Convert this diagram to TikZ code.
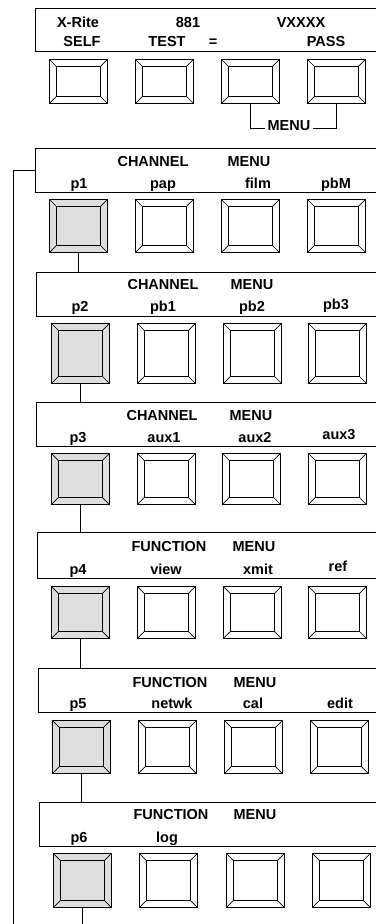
\documentclass[tikz,border=0pt]{standalone}
\usepackage{fontspec}
\setmainfont{Liberation Sans}
\definecolor{keygrey}{RGB}{222,222,222}
\tikzset{
  panel/.style={draw, line width=1.1pt, anchor=north west, inner sep=0pt,
    minimum width=380pt, minimum height=#1},
  btn/.style={draw, line width=0.9pt, anchor=north west, inner sep=0pt,
    minimum width=58pt, minimum height=#1,
    path picture={
      \draw[line width=0.8pt] ([shift={(7pt,7pt)}]path picture bounding box.south west)
        rectangle ([shift={(-7pt,-7pt)}]path picture bounding box.north east);
      \draw[line width=0.7pt] (path picture bounding box.south west) -- ++(7pt,7pt);
      \draw[line width=0.7pt] (path picture bounding box.north west) -- ++(7pt,-7pt);
      \draw[line width=0.7pt] (path picture bounding box.north east) -- ++(-7pt,-7pt);
      \draw[line width=0.7pt] (path picture bounding box.south east) -- ++(-7pt,7pt);
    }},
  selkey/.style={fill=keygrey},
  lbl/.style={font=\bfseries\fontsize{14.5}{16}\selectfont, anchor=base, inner sep=0pt},
  wire/.style={line width=0.9pt}
}
\begin{document}
\begin{tikzpicture}[x=1pt,y=-1pt]
\useasboundingbox (0,0) rectangle (375,924);

% ---------- top panel ----------
\node[panel=43pt] (P1) at (35,8) {};
\node[lbl] (t1a) at (78,27) {X-Rite};
\node[lbl] (t1b) at (188,27) {881};
\node[lbl] (t1c) at (301,27) {VXXXX};
\node[lbl] (t1d) at (82,46) {SELF};
\node[lbl] (t1e) at (167,46) {TEST};
\node[lbl] (t1f) at (213,46) {=};
\node[lbl] (t1g) at (326,46) {PASS};
\node[btn=44pt] (b11) at (49,59) {};
\node[btn=44pt] (b12) at (135,59) {};
\node[btn=44pt] (b13) at (221,59) {};
\node[btn=44pt] (b14) at (307,59) {};
\node[lbl, inner xsep=2pt] (menu) at (289,130) {MENU};
\draw[wire] (b13.south) |- ([yshift=2pt]menu.base west);
\draw[wire] ([yshift=2pt]menu.base east) -| (b14.south);

% ---------- panel 2 ----------
\node[panel=44pt] (P2) at (35,148) {};
\node[lbl] (t2a) at (153,166) {CHANNEL};
\node[lbl] (t2b) at (249,166) {MENU};
\node[lbl] (t2c) at (79,188) {p1};
\node[lbl] (t2d) at (163,188) {pap};
\node[lbl] (t2e) at (258,188) {film};
\node[lbl] (t2f) at (336,188) {pbM};
\node[btn=53pt, selkey] (b21) at (49,199) {};
\node[btn=53pt] (b22) at (135,199) {};
\node[btn=53pt] (b23) at (221,199) {};
\node[btn=53pt] (b24) at (307,199) {};

% ---------- panel 3 ----------
\node[panel=44pt] (P3) at (36,272) {};
\node[lbl] (t3a) at (163,289) {CHANNEL};
\node[lbl] (t3b) at (252,289) {MENU};
\node[lbl] (t3c) at (80,311) {p2};
\node[lbl] (t3d) at (163,311) {pb1};
\node[lbl] (t3e) at (252,311) {pb2};
\node[lbl] (t3f) at (336,309) {pb3};
\node[btn=60pt, selkey] (b31) at (51,323) {};
\node[btn=60pt] (b32) at (137,323) {};
\node[btn=60pt] (b33) at (223,323) {};
\node[btn=60pt] (b34) at (308,323) {};

% ---------- panel 4 ----------
\node[panel=44pt] (P4) at (36,402) {};
\node[lbl] (t4a) at (162,420) {CHANNEL};
\node[lbl] (t4b) at (251,420) {MENU};
\node[lbl] (t4c) at (78,442) {p3};
\node[lbl] (t4d) at (164,442) {aux1};
\node[lbl] (t4e) at (255,442) {aux2};
\node[lbl] (t4f) at (339,439) {aux3};
\node[btn=51pt, selkey] (b41) at (51,453) {};
\node[btn=51pt] (b42) at (137,453) {};
\node[btn=51pt] (b43) at (222,453) {};
\node[btn=51pt] (b44) at (308,453) {};

% ---------- panel 5 ----------
\node[panel=46pt] (P5) at (37,532) {};
\node[lbl] (t5a) at (169,551) {FUNCTION};
\node[lbl] (t5b) at (254,551) {MENU};
\node[lbl] (t5c) at (78,574) {p4};
\node[lbl] (t5d) at (166,574) {view};
\node[lbl] (t5e) at (258,574) {xmit};
\node[lbl] (t5f) at (338,571) {ref};
\node[btn=52pt, selkey] (b51) at (51,586) {};
\node[btn=52pt] (b52) at (137,586) {};
\node[btn=52pt] (b53) at (223,586) {};
\node[btn=52pt] (b54) at (308,586) {};

% ---------- panel 6 ----------
\node[panel=44pt] (P6) at (38,668) {};
\node[lbl] (t6a) at (170,687) {FUNCTION};
\node[lbl] (t6b) at (255,687) {MENU};
\node[lbl] (t6c) at (78,708) {p5};
\node[lbl] (t6d) at (172,708) {netwk};
\node[lbl] (t6e) at (253,708) {cal};
\node[lbl] (t6f) at (340,708) {edit};
\node[btn=53pt, selkey] (b61) at (52,720) {};
\node[btn=53pt] (b62) at (138,720) {};
\node[btn=53pt] (b63) at (224,720) {};
\node[btn=53pt] (b64) at (310,720) {};

% ---------- panel 7 ----------
\node[panel=44pt] (P7) at (39,802) {};
\node[lbl] (t7a) at (171,819) {FUNCTION};
\node[lbl] (t7b) at (255,819) {MENU};
\node[lbl] (t7c) at (79,842) {p6};
\node[lbl] (t7d) at (167,842) {log};
\node[btn=54pt, selkey] (b71) at (53,853) {};
\node[btn=54pt] (b72) at (139,853) {};
\node[btn=54pt] (b73) at (226,853) {};
\node[btn=54pt] (b74) at (312,853) {};

% ---------- connectors ----------
\draw[wire] (b21.south) -- (b21.south |- P3.north);
\draw[wire] (b31.south) -- (b31.south |- P4.north);
\draw[wire] (b41.south) -- (b41.south |- P5.north);
\draw[wire] (b51.south) -- (b51.south |- P6.north);
\draw[wire] (b61.south) -- (b61.south |- P7.north);
\coordinate (endlow) at (82,924);
\draw[wire] (b71.south) -- (b71.south |- endlow);
\coordinate (fbbot) at (13,924);
\draw[wire] (P2.west) -| (fbbot);
\end{tikzpicture}
\end{document}
